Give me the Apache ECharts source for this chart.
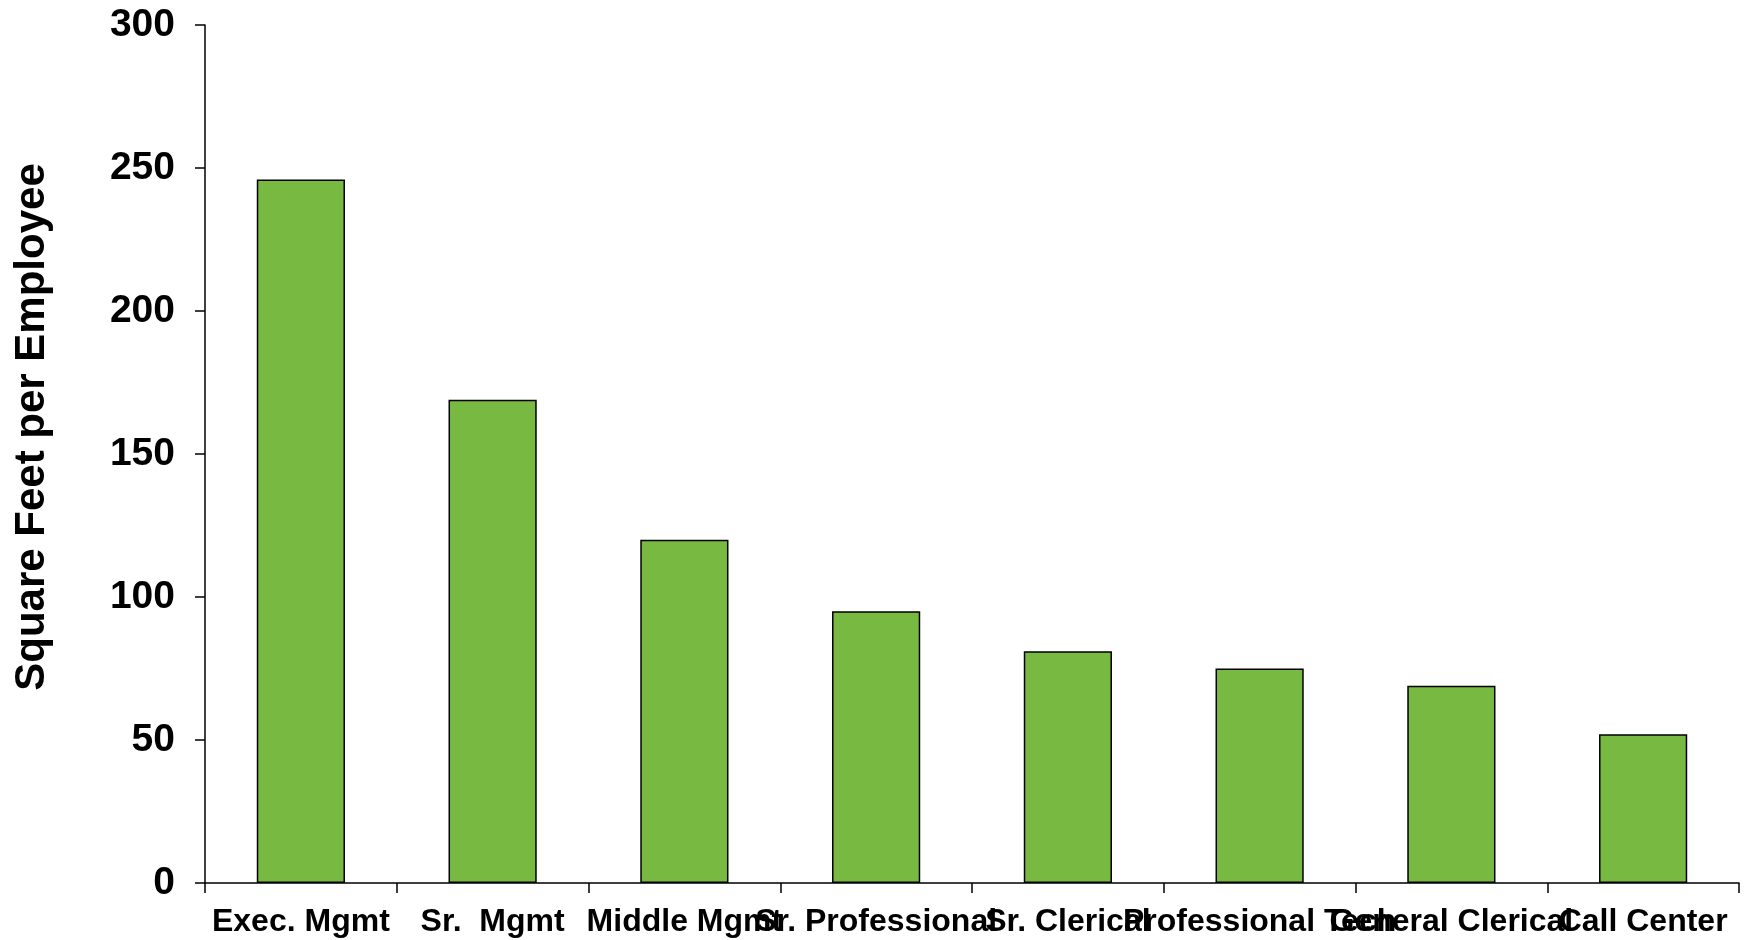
<!DOCTYPE html>
<html>
<head>
<meta charset="utf-8">
<script src="https://cdn.jsdelivr.net/npm/echarts@6/dist/echarts.min.js"></script>
<style>html,body{margin:0;padding:0;background:#fff}#c{width:1747px;height:940px}</style>
</head>
<body>
<div id="c"></div>
<script>
const categories = ['Exec. Mgmt', 'Sr.  Mgmt', 'Middle Mgmt', 'Sr. Professional', 'Sr. Clerical', 'Professional Tech', 'General Clerical', 'Call Center'];
const values = [246, 169, 120, 95, 81, 75, 69, 52];
const yTicks = [0, 50, 100, 150, 200, 250, 300];
const yTitle = 'Square Feet per Employee';

const font = "'Liberation Sans', Arial, sans-serif";
const chart = echarts.init(document.getElementById('c'), null, {renderer: 'canvas'});
chart.setOption({
  animation: false,
  backgroundColor: '#fff',
  grid: {left: 205, right: 8, top: 25, bottom: 57, containLabel: false},
  xAxis: {
    type: 'category',
    data: categories,
    axisLine: {lineStyle: {color: '#000', width: 1.5}},
    axisTick: {show: true, length: 10, lineStyle: {color: '#000', width: 1.5}},
    axisLabel: {interval: 0, margin: 23, color: '#000', fontSize: 32, fontWeight: 'bold', fontFamily: font}
  },
  yAxis: {
    type: 'value',
    min: yTicks[0], max: yTicks[yTicks.length - 1], interval: 50,
    name: yTitle,
    nameLocation: 'middle',
    nameGap: 152,
    nameTextStyle: {color: '#000', fontSize: 42, fontWeight: 'bold', fontFamily: font, padding: [0, 0, 0, 54]},
    splitLine: {show: false},
    axisLine: {show: true, lineStyle: {color: '#000', width: 1.5}},
    axisTick: {show: true, length: 10, lineStyle: {color: '#000', width: 1.5}},
    axisLabel: {margin: 30, color: '#000', fontSize: 39, fontWeight: 'bold', fontFamily: font}
  },
  series: [{
    type: 'bar',
    data: values,
    barWidth: '46%',
    itemStyle: {color: '#77B941', borderColor: '#000', borderWidth: 1.5}
  }]
});
</script>
</body>
</html>
